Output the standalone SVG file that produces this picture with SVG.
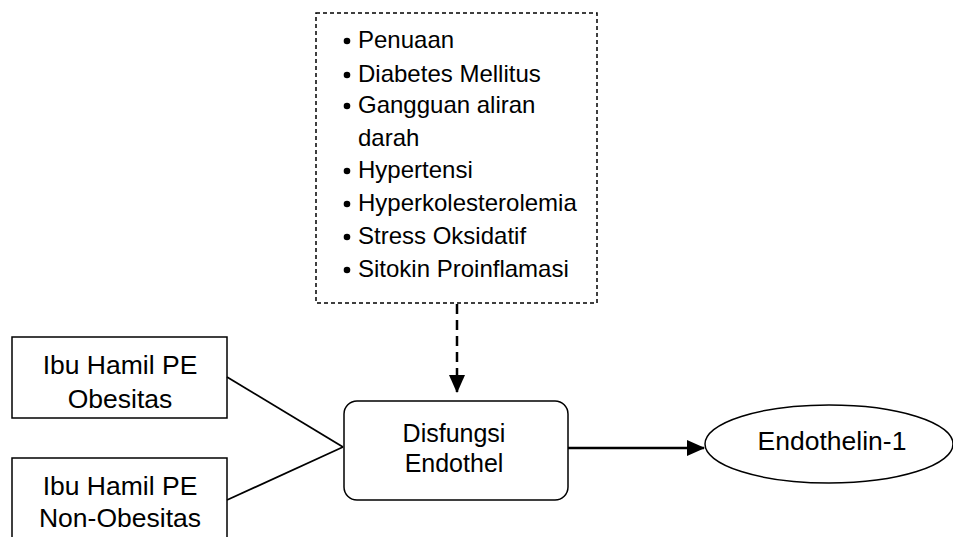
<svg xmlns="http://www.w3.org/2000/svg" width="953" height="537" viewBox="0 0 953 537">
<style>
text{font-family:"Liberation Sans",Arial,sans-serif;fill:#000}
.lbl{font-size:25px;text-anchor:middle}
.big{font-size:26.5px}
.li{font-size:24px}
.box{fill:#fff;stroke:#000;stroke-width:1.5}
.ln{stroke:#000;stroke-width:1.8;fill:none}
</style>
<defs>
<marker id="ah2" markerWidth="18" markerHeight="16" refX="17" refY="8" orient="auto" markerUnits="userSpaceOnUse" viewBox="0 0 18 16">
<path d="M0,0 L18,8 L0,16 z" fill="#000"/>
</marker>
</defs>
<g id="factors">
<rect x="316" y="13" width="281" height="290" fill="#fff" stroke="#000" stroke-width="1.5" stroke-dasharray="4,3"/>
<circle cx="347" cy="41" r="3.3"/><text x="358" y="48" class="li">Penuaan</text>
<circle cx="347" cy="75" r="3.3"/><text x="358" y="82" class="li">Diabetes Mellitus</text>
<circle cx="347" cy="106" r="3.3"/><text x="358" y="113" class="li">Gangguan aliran</text>
<text x="358" y="146" class="li">darah</text>
<circle cx="347" cy="171" r="3.3"/><text x="358" y="178" class="li">Hypertensi</text>
<circle cx="347" cy="204" r="3.3"/><text x="358" y="211" class="li">Hyperkolesterolemia</text>
<circle cx="347" cy="237" r="3.3"/><text x="358" y="244" class="li">Stress Oksidatif</text>
<circle cx="347" cy="270" r="3.3"/><text x="358" y="277" class="li">Sitokin Proinflamasi</text>
</g>
<g id="obesitas">
<rect class="box" x="12" y="337" width="215" height="81"/>
<text class="lbl big" x="120" y="374">Ibu Hamil PE</text>
<text class="lbl big" x="120" y="408">Obesitas</text>
</g>
<g id="non-obesitas">
<rect class="box" x="12" y="458" width="215" height="90"/>
<text class="lbl big" x="120" y="495">Ibu Hamil PE</text>
<text class="lbl big" x="120" y="527">Non-Obesitas</text>
</g>
<g id="disfungsi">
<rect class="box" x="344" y="401" width="224" height="99" rx="13" ry="13"/>
<text class="lbl" x="454" y="442">Disfungsi</text>
<text class="lbl" x="454" y="472">Endothel</text>
</g>
<g id="endothelin">
<ellipse cx="829" cy="444" rx="124" ry="39" fill="#fff" stroke="#000" stroke-width="1.5"/>
<text class="lbl big" x="832" y="450">Endothelin-1</text>
</g>
<g id="connectors">
<line class="ln" x1="227" y1="377" x2="343" y2="447"/>
<line class="ln" x1="227" y1="500" x2="343" y2="447"/>
<line x1="457" y1="304" x2="457" y2="392" stroke="#000" stroke-width="2.5" stroke-dasharray="10,6" marker-end="url(#ah2)"/>
<line x1="568" y1="448" x2="704" y2="448" stroke="#000" stroke-width="2.5" marker-end="url(#ah2)"/>
</g>
</svg>
